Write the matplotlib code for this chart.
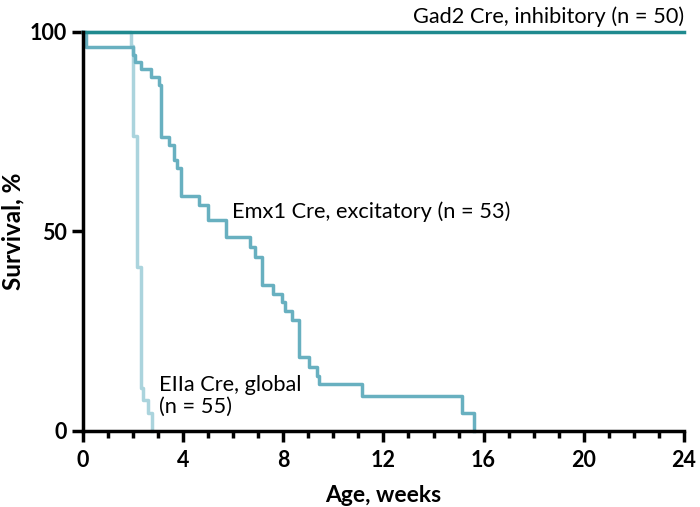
import numpy as np
import matplotlib
matplotlib.use("Agg")
import matplotlib.pyplot as plt
from matplotlib.ticker import MultipleLocator

plt.rcParams['font.family'] = ['Lato', 'DejaVu Sans']

# Kaplan-Meier step data (weeks, survival %)
gad2_t = [0, 24]
gad2_s = [100, 100]

emx1_t = [0, 0.1, 2.0, 2.08, 2.32, 2.72, 3.05, 3.12, 3.45, 3.65, 3.74, 3.9, 4.63,
          5.0, 5.71, 6.67, 6.87, 7.13, 7.6, 7.93, 8.07, 8.33, 8.64, 9.04, 9.33,
          9.42, 11.13, 15.12, 15.61]
emx1_s = [100, 96.2, 94.3, 92.5, 90.6, 88.7, 86.8, 73.6, 71.7, 67.9, 66.0, 59.0, 56.6,
          52.8, 48.5, 46.2, 43.7, 36.6, 34.3, 32.2, 30.1, 27.8, 18.5, 16.1, 13.8,
          11.8, 8.8, 4.4, 0]

eiia_t = [0, 1.92, 2.0, 2.14, 2.32, 2.41, 2.61, 2.74]
eiia_s = [100, 96.4, 73.8, 41.2, 10.8, 7.8, 4.4, 0]

c_gad2 = '#1f8a8f'
c_emx1 = '#68b0c0'
c_eiia = '#abd4dd'

fig = plt.figure(figsize=(7, 5.07), dpi=100)
ax = fig.add_axes([0.1186, 0.150, 0.8584, 0.787])

ax.step(eiia_t, eiia_s, where='post', color=c_eiia, lw=2.5, clip_on=False, zorder=3)
ax.step(emx1_t, emx1_s, where='post', color=c_emx1, lw=2.5, clip_on=False, zorder=4)
ax.step(gad2_t, gad2_s, where='post', color=c_gad2, lw=2.5, clip_on=False, zorder=5)

ax.set_xlim(0, 24)
ax.set_ylim(0, 100)
ax.xaxis.set_major_locator(MultipleLocator(4))
ax.xaxis.set_minor_locator(MultipleLocator(1))
ax.set_yticks([0, 50, 100])

for s in ['top', 'right']:
    ax.spines[s].set_visible(False)
for s in ['left', 'bottom']:
    ax.spines[s].set_linewidth(2.5)
    ax.spines[s].set_zorder(6)

ax.tick_params(axis='both', which='major', width=2.5, length=8, labelsize=15.5)
ax.tick_params(axis='x', which='major', pad=5.5)
ax.tick_params(axis='x', which='minor', width=2.5, length=5)
for lab in ax.get_xticklabels() + ax.get_yticklabels():
    lab.set_fontweight('bold')

ax.set_xlabel('Age, weeks', fontsize=16.5, fontweight='bold', labelpad=10)
ax.set_ylabel('Survival, %', fontsize=17.5, fontweight='bold', labelpad=4)

ax.text(24, 101.3, 'Gad2 Cre, inhibitory (n = 50)', fontsize=15.7, ha='right', va='bottom',
        clip_on=False)
ax.text(5.95, 55, 'Emx1 Cre, excitatory (n = 53)', fontsize=15.7, ha='left', va='center')
ax.text(3.04, 8.8, 'EIIa Cre, global\n(n = 55)', fontsize=15.7, ha='left', va='center',
        linespacing=1.15)

fig.savefig('out.png', dpi=100)
